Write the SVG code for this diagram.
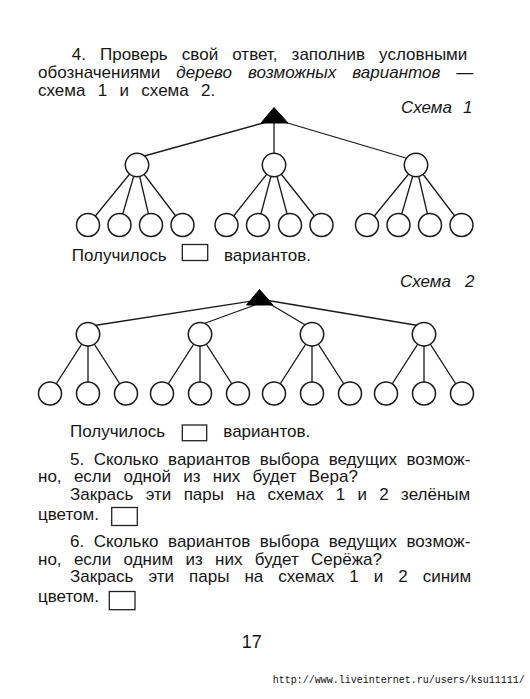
<svg xmlns="http://www.w3.org/2000/svg" width="530" height="699" viewBox="0 0 530 699">
<style>
.t{font-family:"Liberation Sans",Arial,sans-serif;font-size:17px;fill:#161616;white-space:pre}
.i{font-style:italic}
.edge{stroke:#1a1a1a;stroke-width:1.3;fill:none;stroke-linecap:round}
.node{fill:#fff;stroke:#1a1a1a;stroke-width:1.5}
.root{fill:#000;stroke:#000;stroke-width:1;stroke-linejoin:round}
.box{fill:none;stroke:#222;stroke-width:1.3}
.wm{font-family:"Liberation Mono","DejaVu Sans Mono",monospace;font-size:10px;fill:#111}
</style>
<rect width="530" height="699" fill="#fff"/>

<!-- Paragraph 4 -->
<g id="para4" class="t">
<text x="71.7" y="59.5" word-spacing="9.4">4. Проверь свой ответ, заполнив условными</text>
<text x="38" y="77.5" word-spacing="11.3">обозначениями <tspan class="i">дерево возможных вариантов</tspan> —</text>
<text x="38" y="95.5" word-spacing="7.6">схема 1 и схема 2.</text>
</g>

<!-- Scheme 1 -->
<g id="scheme1-title" class="t i"><text y="113.3"><tspan x="401">Схема</tspan><tspan x="463">1</tspan></text></g>
<g id="scheme1-connectors">
<line class="edge" x1="274" y1="120" x2="137" y2="158"/>
<line class="edge" x1="274" y1="115" x2="274" y2="165"/>
<line class="edge" x1="274" y1="119" x2="416" y2="161"/>
<line class="edge" x1="137" y1="165" x2="88" y2="225"/>
<line class="edge" x1="137" y1="165" x2="119.5" y2="225"/>
<line class="edge" x1="137" y1="165" x2="151" y2="225"/>
<line class="edge" x1="137" y1="165" x2="182.5" y2="225"/>
<line class="edge" x1="274" y1="165" x2="226.5" y2="225"/>
<line class="edge" x1="274" y1="165" x2="258" y2="225"/>
<line class="edge" x1="274" y1="165" x2="290" y2="225"/>
<line class="edge" x1="274" y1="165" x2="321.5" y2="225"/>
<line class="edge" x1="416" y1="165" x2="367" y2="225"/>
<line class="edge" x1="416" y1="165" x2="398.5" y2="225"/>
<line class="edge" x1="416" y1="165" x2="430" y2="225"/>
<line class="edge" x1="416" y1="165" x2="461.5" y2="225"/>
</g>
<g id="s1-root"><polygon class="root" points="274,107.5 261,123 288,123"/></g>
<g id="s1-a"><circle class="node" cx="137" cy="165" r="11.7"/></g>
<g id="s1-b"><circle class="node" cx="274" cy="165" r="11.7"/></g>
<g id="s1-c"><circle class="node" cx="416" cy="165" r="11.7"/></g>
<g id="s1-a1"><circle class="node" cx="88" cy="225" r="11.5"/></g>
<g id="s1-a2"><circle class="node" cx="119.5" cy="225" r="11.5"/></g>
<g id="s1-a3"><circle class="node" cx="151" cy="225" r="11.5"/></g>
<g id="s1-a4"><circle class="node" cx="182.5" cy="225" r="11.5"/></g>
<g id="s1-b1"><circle class="node" cx="226.5" cy="225" r="11.5"/></g>
<g id="s1-b2"><circle class="node" cx="258" cy="225" r="11.5"/></g>
<g id="s1-b3"><circle class="node" cx="290" cy="225" r="11.5"/></g>
<g id="s1-b4"><circle class="node" cx="321.5" cy="225" r="11.5"/></g>
<g id="s1-c1"><circle class="node" cx="367" cy="225" r="11.5"/></g>
<g id="s1-c2"><circle class="node" cx="398.5" cy="225" r="11.5"/></g>
<g id="s1-c3"><circle class="node" cx="430" cy="225" r="11.5"/></g>
<g id="s1-c4"><circle class="node" cx="461.5" cy="225" r="11.5"/></g>
<g id="s1-answer" class="t">
<text x="71.7" y="260.5">Получилось</text>
<rect class="box" x="182.3" y="244.5" width="25.4" height="16"/>
<text x="224" y="260.5">вариантов.</text>
</g>

<!-- Scheme 2 -->
<g id="scheme2-title" class="t i"><text y="286.7"><tspan x="400">Схема</tspan><tspan x="465">2</tspan></text></g>
<g id="scheme2-connectors">
<line class="edge" x1="259" y1="300" x2="88" y2="326.5"/>
<line class="edge" x1="255" y1="305" x2="200" y2="325"/>
<line class="edge" x1="265" y1="301" x2="312" y2="329"/>
<line class="edge" x1="262" y1="299.5" x2="424" y2="326.5"/>
<line class="edge" x1="88" y1="334.3" x2="50" y2="393.5"/>
<line class="edge" x1="88" y1="334.3" x2="88" y2="393.5"/>
<line class="edge" x1="88" y1="334.3" x2="126" y2="393.5"/>
<line class="edge" x1="200" y1="334.3" x2="162" y2="393.5"/>
<line class="edge" x1="200" y1="334.3" x2="200" y2="393.5"/>
<line class="edge" x1="200" y1="334.3" x2="238" y2="393.5"/>
<line class="edge" x1="312" y1="334.3" x2="274" y2="393.5"/>
<line class="edge" x1="312" y1="334.3" x2="312" y2="393.5"/>
<line class="edge" x1="312" y1="334.3" x2="350" y2="393.5"/>
<line class="edge" x1="424" y1="334.3" x2="386" y2="393.5"/>
<line class="edge" x1="424" y1="334.3" x2="424" y2="393.5"/>
<line class="edge" x1="424" y1="334.3" x2="462" y2="393.5"/>
</g>
<g id="s2-root"><polygon class="root" points="259.5,289.5 246.5,305 273,305"/></g>
<g id="s2-a"><circle class="node" cx="88" cy="334.3" r="11.7"/></g>
<g id="s2-b"><circle class="node" cx="200" cy="334.3" r="11.7"/></g>
<g id="s2-c"><circle class="node" cx="312" cy="334.3" r="11.7"/></g>
<g id="s2-d"><circle class="node" cx="424" cy="334.3" r="11.7"/></g>
<g id="s2-a1"><circle class="node" cx="50" cy="393.5" r="11.5"/></g>
<g id="s2-a2"><circle class="node" cx="88" cy="393.5" r="11.5"/></g>
<g id="s2-a3"><circle class="node" cx="126" cy="393.5" r="11.5"/></g>
<g id="s2-b1"><circle class="node" cx="162" cy="393.5" r="11.5"/></g>
<g id="s2-b2"><circle class="node" cx="200" cy="393.5" r="11.5"/></g>
<g id="s2-b3"><circle class="node" cx="238" cy="393.5" r="11.5"/></g>
<g id="s2-c1"><circle class="node" cx="274" cy="393.5" r="11.5"/></g>
<g id="s2-c2"><circle class="node" cx="312" cy="393.5" r="11.5"/></g>
<g id="s2-c3"><circle class="node" cx="350" cy="393.5" r="11.5"/></g>
<g id="s2-d1"><circle class="node" cx="386" cy="393.5" r="11.5"/></g>
<g id="s2-d2"><circle class="node" cx="424" cy="393.5" r="11.5"/></g>
<g id="s2-d3"><circle class="node" cx="462" cy="393.5" r="11.5"/></g>
<g id="s2-answer" class="t">
<text x="70" y="436.7">Получилось</text>
<rect class="box" x="182.3" y="425" width="24.4" height="15.7"/>
<text x="223.3" y="436.7">вариантов.</text>
</g>

<!-- Paragraph 5 -->
<g id="para5" class="t">
<text x="70" y="464.7" word-spacing="4.8">5. Сколько вариантов выбора ведущих возмож-</text>
<text x="38" y="482.3" word-spacing="7.6">но, если одной из них будет Вера?</text>
<text x="70" y="500" word-spacing="7.6">Закрась эти пары на схемах 1 и 2 зелёным</text>
<text x="38" y="519.7">цветом.</text>
<rect class="box" x="111.7" y="507.5" width="25.6" height="18"/>
</g>

<!-- Paragraph 6 -->
<g id="para6" class="t">
<text x="70" y="547" word-spacing="4.8">6. Сколько вариантов выбора ведущих возмож-</text>
<text x="38" y="564.7" word-spacing="7.6">но, если одним из них будет Серёжа?</text>
<text x="70" y="582.3" word-spacing="10.3">Закрась эти пары на схемах 1 и 2 синим</text>
<text x="38" y="602.3">цветом.</text>
<rect class="box" x="109.3" y="591.5" width="25.7" height="18.2"/>
</g>

<g id="page-number" class="t"><text x="241.7" y="648.3" style="font-size:18px">17</text></g>
<g id="watermark"><text class="wm" x="272.7" y="682.7">http://www.liveinternet.ru/users/ksu11111/</text></g>
</svg>
